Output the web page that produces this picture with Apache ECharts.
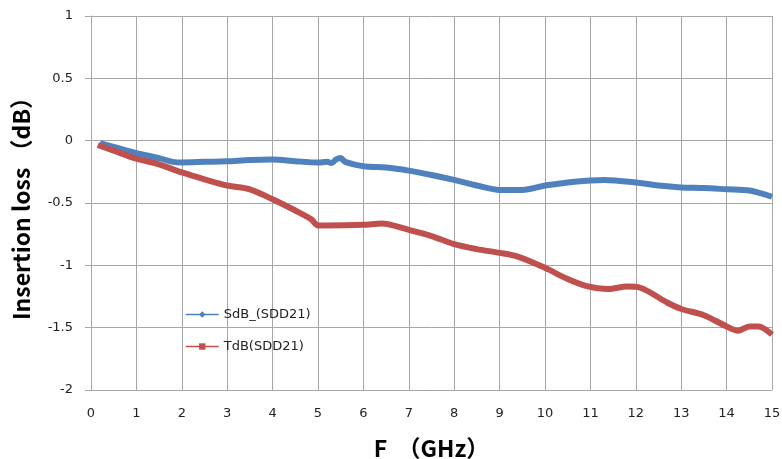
<!DOCTYPE html>
<html>
<head>
<meta charset="utf-8">
<script src="https://cdn.jsdelivr.net/npm/echarts@6/dist/echarts.min.js"></script>
<style>
  html, body { margin: 0; padding: 0; background: #fff; }
  #chart { width: 782px; height: 459px; }
</style>
</head>
<body>
<div id="chart"></div>
<script>
// SdB_(SDD21): [F GHz, dB]
const sdbData = [
  [0.2, -0.02], [0.5, -0.05], [1, -0.10], [1.5, -0.14], [1.8, -0.17], [2, -0.175],
  [2.5, -0.17], [3, -0.165], [3.5, -0.155], [4, -0.152], [4.5, -0.165], [5, -0.175],
  [5.2, -0.17], [5.3, -0.18], [5.4, -0.15], [5.5, -0.14], [5.6, -0.17], [6, -0.205],
  [6.5, -0.215], [7, -0.24], [7.5, -0.275], [8, -0.315], [8.5, -0.36], [9, -0.395],
  [9.5, -0.395], [10, -0.36], [10.5, -0.335], [11, -0.32], [11.3, -0.315], [12, -0.335],
  [12.5, -0.36], [13, -0.375], [13.5, -0.38], [14, -0.39], [14.5, -0.40], [15, -0.45]
]
// TdB(SDD21): [F GHz, dB]
const tdbData = [
  [0.15, -0.035], [0.5, -0.08], [1, -0.145], [1.5, -0.19], [2, -0.255], [2.5, -0.31],
  [3, -0.36], [3.5, -0.39], [4, -0.47], [4.5, -0.56], [4.85, -0.63], [5.0, -0.68],
  [5.2, -0.68], [6, -0.675], [6.4, -0.665], [7, -0.715], [7.5, -0.765], [8, -0.83],
  [8.5, -0.87], [9, -0.9], [9.4, -0.93], [10, -1.02], [10.5, -1.11], [10.9, -1.165],
  [11.4, -1.19], [11.8, -1.17], [12.1, -1.18], [12.7, -1.30], [13, -1.35], [13.5, -1.40],
  [14, -1.49], [14.25, -1.525], [14.5, -1.49], [14.7, -1.49], [15, -1.555]
]
const seriesNames = ['SdB_(SDD21)', 'TdB(SDD21)']

const chart = echarts.init(document.getElementById('chart'))
const gridColor = '#a6a6a6'
const labelFont = { color: '#222', fontSize: 13, fontFamily: 'DejaVu Sans' }
const nameFont = { fontSize: 23, fontWeight: 'bold', color: '#000', fontFamily: 'Noto Sans CJK SC' }

chart.setOption({
  animation: false,
  grid: { left: 91, right: 10, top: 16, bottom: 69, outerBoundsMode: 'none' },
  legend: {
    orient: 'vertical',
    left: 180,
    top: 303,
    itemWidth: 33,
    itemHeight: 8,
    itemGap: 19,
    lineStyle: { width: 1.5 },
    textStyle: { color: '#222', fontSize: 13, fontFamily: 'DejaVu Sans' },
    data: seriesNames
  },
  xAxis: {
    type: 'value',
    min: 0,
    max: 15,
    interval: 1,
    name: 'F  （GHz）',
    nameLocation: 'middle',
    nameGap: 47,
    nameTextStyle: nameFont,
    axisLine: { lineStyle: { color: gridColor } },
    axisTick: { show: true, length: 6, lineStyle: { color: gridColor } },
    axisLabel: Object.assign({ margin: 17 }, labelFont),
    splitLine: { show: true, lineStyle: { color: gridColor } }
  },
  yAxis: {
    type: 'value',
    min: -2,
    max: 1,
    interval: 0.5,
    name: 'Insertion loss （dB）',
    nameLocation: 'middle',
    nameGap: 58,
    nameTextStyle: nameFont,
    axisLine: { show: true, lineStyle: { color: gridColor } },
    axisTick: { show: true, length: 6, lineStyle: { color: gridColor } },
    axisLabel: Object.assign({ margin: 18 }, labelFont),
    splitLine: { show: true, lineStyle: { color: gridColor } }
  },
  series: [
    {
      name: seriesNames[0],
      type: 'line',
      data: sdbData,
      smooth: 0.3,
      symbol: 'diamond',
      symbolSize: 7,
      showSymbol: false,
      color: '#4f81bd',
      lineStyle: { width: 6, color: '#4f81bd' }
    },
    {
      name: seriesNames[1],
      type: 'line',
      data: tdbData,
      smooth: 0.3,
      symbol: 'rect',
      symbolSize: 7,
      showSymbol: false,
      color: '#c0504d',
      lineStyle: { width: 6, color: '#c0504d' }
    }
  ]
})
</script>
</body>
</html>
